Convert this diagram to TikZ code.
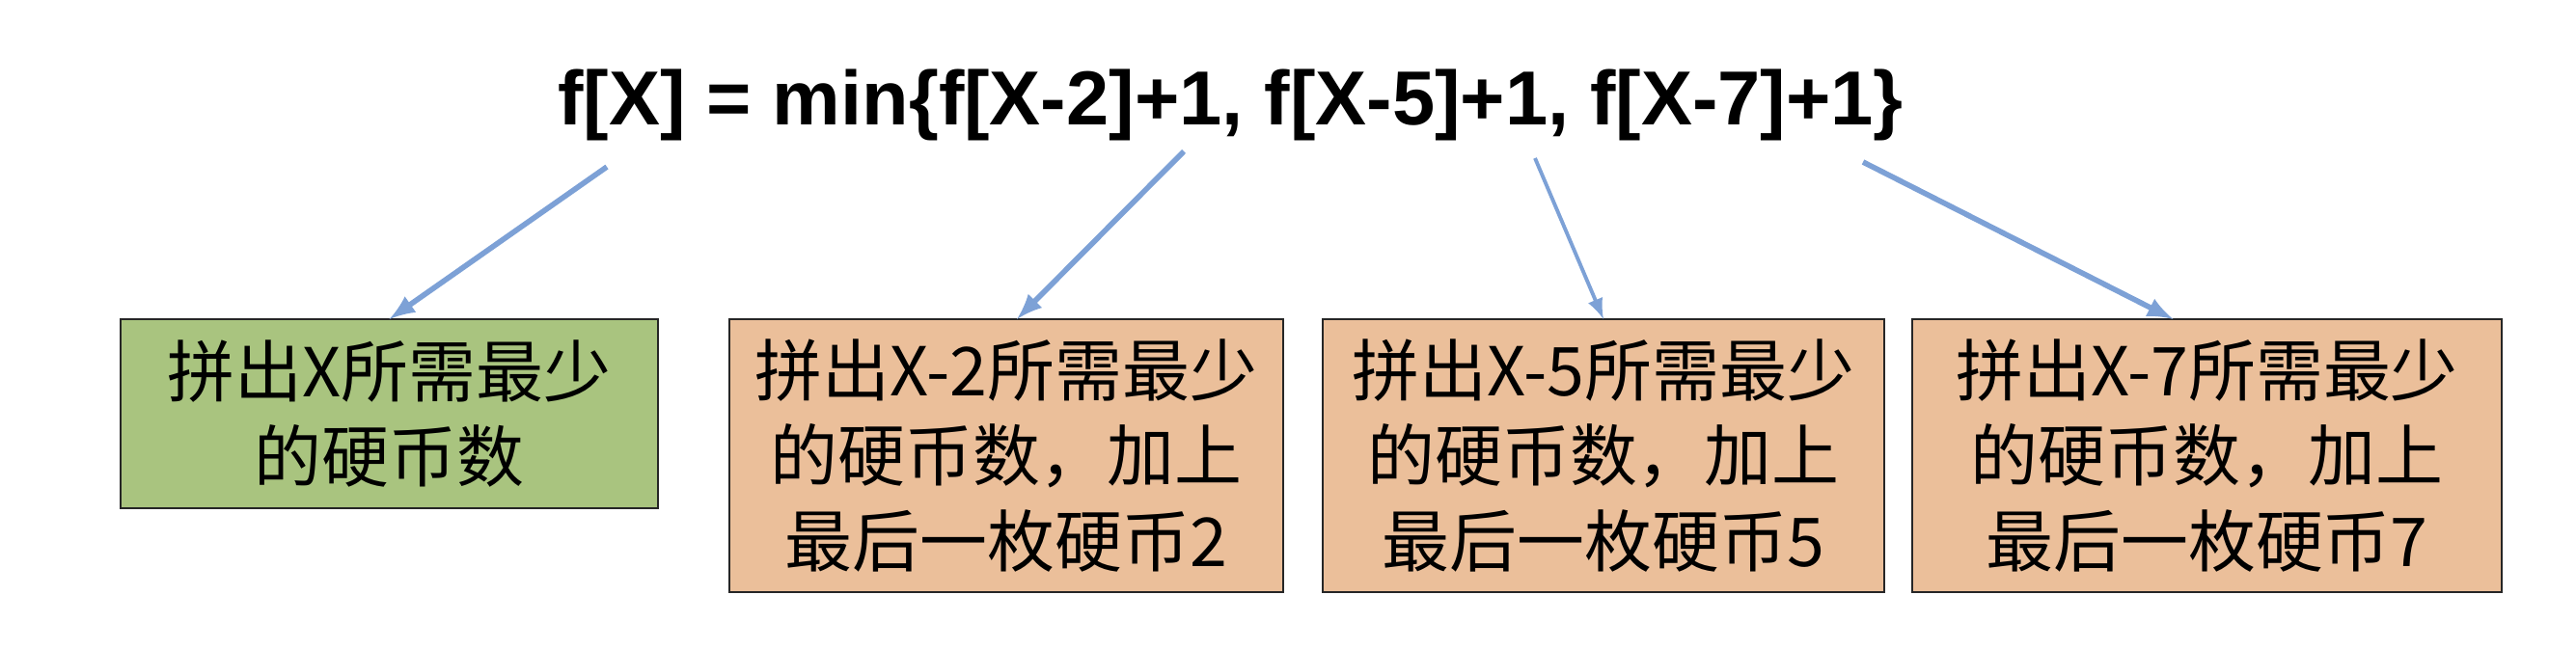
\documentclass[tikz,border=0pt]{standalone}
\usepackage{fontspec}
\setmainfont{Liberation Sans}
\newfontfamily\cjk{Noto Sans CJK SC}
\usepackage{tikz}
\usetikzlibrary{arrows, positioning, calc}
\definecolor{boxgreen}{HTML}{A9C47F}
\definecolor{boxorange}{HTML}{EBBF9A}
\definecolor{arrowblue}{HTML}{7DA1D6}

\begin{document}
\begin{tikzpicture}[every node/.style={outer sep=0pt,inner sep=0pt}]
\tikzstyle{coinbox}=[draw=black!85,line width=0.6pt,align=center,font=\cjk\fontsize{19.9pt}{25.3pt}\selectfont,minimum height=2.83cm]
\tikzstyle{hint}=[-latex,draw=arrowblue,line width=1.6pt]

\useasboundingbox (0,0) rectangle (26.7,6.72);

\node (formula) [anchor=base,font=\bfseries\fontsize{22.6pt}{27pt}\selectfont] at (12.755,5.42) {f[X] = min\{f[X-2]+1, f[X-5]+1, f[X-7]+1\}};

\node (fx) [coinbox,fill=boxgreen,anchor=north west,minimum width=5.57cm,minimum height=1.96cm] at (1.25,3.41) {拼出X所需最少\\的硬币数};
\node (fx2) [coinbox,fill=boxorange,right=0.74cm of fx.north east,anchor=north west,minimum width=5.74cm] {拼出X-2所需最少\\的硬币数，加上\\最后一枚硬币2};
\node (fx5) [coinbox,fill=boxorange,right=0.41cm of fx2.north east,anchor=north west,minimum width=5.82cm] {拼出X-5所需最少\\的硬币数，加上\\最后一枚硬币5};
\node (fx7) [coinbox,fill=boxorange,right=0.29cm of fx5.north east,anchor=north west,minimum width=6.11cm] {拼出X-7所需最少\\的硬币数，加上\\最后一枚硬币7};

% start points just under the formula
\coordinate (s1) at (6.29,4.99);
\coordinate (s2) at (12.27,5.15);
\coordinate (s3) at (15.91,5.08);
\coordinate (s4) at (19.31,5.04);

\draw [hint] (s1) -- (fx.north);
\draw [hint] (s2) -- ($(fx2.north)+(0.11,0)$);
\draw [hint,line width=1.1pt] (s3) -- (fx5.north);
\draw [hint] (s4) -- ($(fx7.north)+(-0.35,0)$);
\end{tikzpicture}
\end{document}
